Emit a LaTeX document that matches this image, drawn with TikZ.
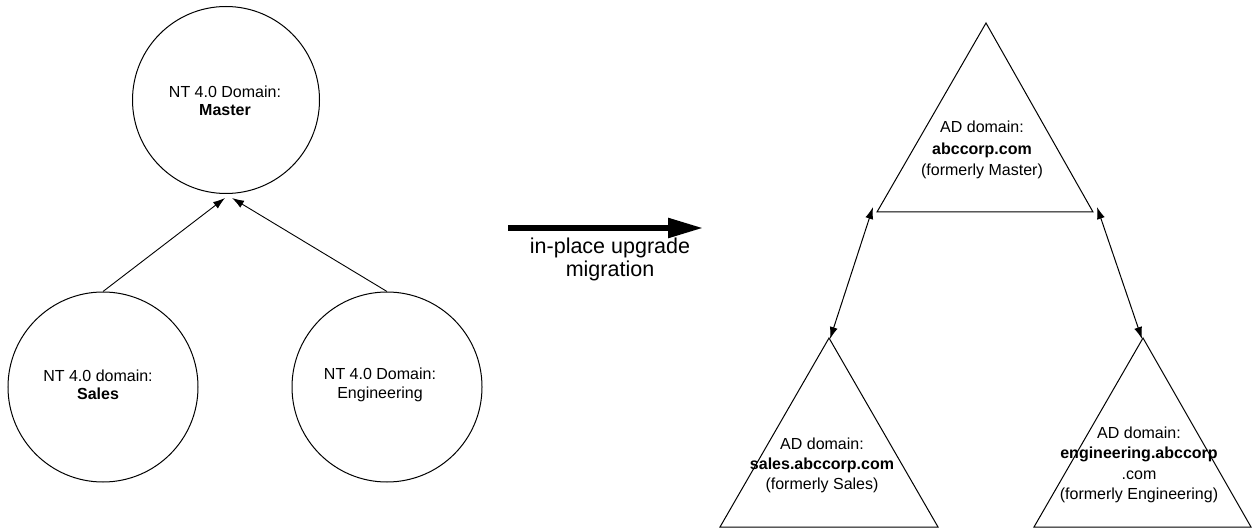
\documentclass[tikz,border=0pt]{standalone}
\usepackage{fontspec}
\setmainfont{Liberation Sans}
\usetikzlibrary{arrows.meta,calc}

\begin{document}
\begin{tikzpicture}[x=1pt,y=-1pt,
  ntdomain/.style={circle,draw,line width=1pt,inner sep=0pt},
  lbl/.style={align=center,inner sep=0pt,font=\fontsize{16}{18.5}\selectfont},
  tri/.style={draw,line width=1pt,line join=miter},
  link/.style={line width=0.9pt,-{Latex[length=12pt,width=8pt]}},
  biglink/.style={line width=1pt,{Latex[length=12pt,width=8pt]}-{Latex[length=12pt,width=8pt]}},
  migrate/.style={line width=5.5pt,-{Triangle[length=35pt,width=19pt]}}
]
\useasboundingbox (0,0) rectangle (1252,529);

% --- NT 4.0 domains ---
\node[ntdomain,minimum size=187pt] (master) at (226,100) {};
\node[ntdomain,minimum size=190pt] (sales)  at (103,387) {};
\node[ntdomain,minimum size=190pt] (eng)    at (387,387) {};

\node[lbl] (masterT) at (225,101) {NT 4.0 Domain:\\\textbf{Master}};
\node[lbl] (salesT)  at (98,385)  {NT 4.0 domain:\\\textbf{Sales}};
\node[lbl] (engT)    at (380,385) {NT 4.0 Domain:\\Engineering};

\draw[link] (sales.north) -- ([xshift=-1pt,yshift=-4pt]master.south);
\draw[link] (eng.north)   -- ([xshift=6pt,yshift=-4pt]master.south);

% --- migration arrow ---
\coordinate (migA) at (508,228);
\coordinate (migB) at (703,228);
\draw[migrate] (migA) -- (migB);
\node[align=center,inner sep=0pt,font=\fontsize{21.5}{23}\selectfont] (migT) at (610,259)
  {in-place upgrade\\migration};

% --- AD domains (triangles) ---
\coordinate (rootTop) at (986,23);
\coordinate (rootL)   at (877,212);
\coordinate (rootR)   at (1093,212);
\draw[tri] (rootTop) -- (rootR) -- (rootL) -- cycle;

\coordinate (salesTop) at (829,338);
\coordinate (salesL)   at (720,527);
\coordinate (salesR)   at (938,527);
\draw[tri] (salesTop) -- (salesR) -- (salesL) -- cycle;

\coordinate (engTop) at (1143,338);
\coordinate (engL)   at (1034,527);
\coordinate (engR)   at (1251,527);
\draw[tri] (engTop) -- (engR) -- (engL) -- cycle;

\node[lbl,font=\fontsize{16}{21.5}\selectfont] (rootT) at (982,150)
  {AD domain:\\\textbf{abccorp.com}\\(formerly Master)};
\node[lbl,font=\fontsize{16}{20}\selectfont] (salesADT) at (822,465)
  {AD domain:\\\textbf{sales.abccorp.com}\\(formerly Sales)};
\node[lbl,font=\fontsize{16}{20.5}\selectfont] (engADT) at (1139,465)
  {AD domain:\\\textbf{engineering.abccorp}\\.com\\(formerly Engineering)};

\draw[biglink] ([xshift=-4pt,yshift=5pt]rootL) -- ([xshift=1pt,yshift=-1pt]salesTop);
\draw[biglink] ([xshift=4pt,yshift=5pt]rootR) -- ([xshift=-1pt,yshift=-1pt]engTop);
\end{tikzpicture}
\end{document}
